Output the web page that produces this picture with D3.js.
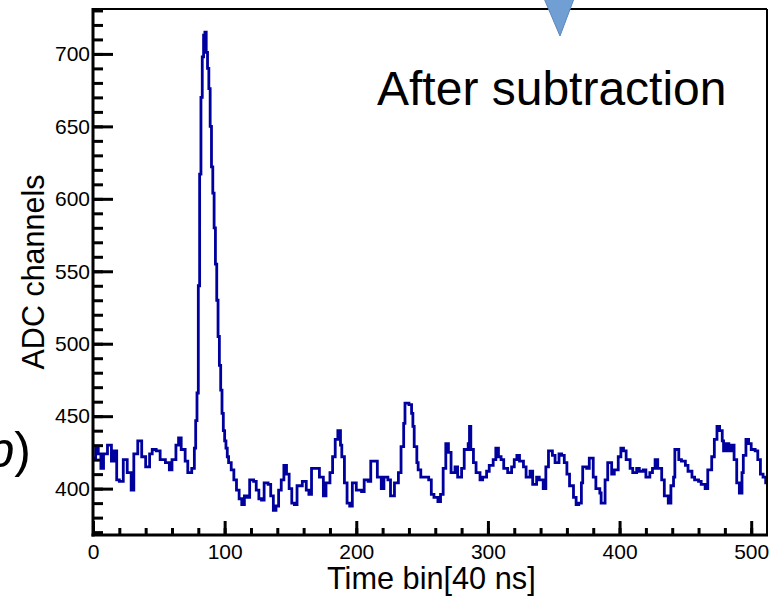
<!DOCTYPE html>
<html>
<head>
<meta charset="utf-8">
<script src="https://cdn.jsdelivr.net/npm/d3@7"></script>
<style>
  body { margin: 0; background: #fff; }
  text { font-family: "Liberation Sans", Arial, sans-serif; }
</style>
</head>
<body>
<svg id="chart" width="773" height="597"></svg>
<script>
"use strict";

// bin where each step starts, and the ADC value
var bins = [0, 2, 4, 6, 8, 11, 14, 16, 18, 20, 23, 26, 29, 31, 34, 37, 40, 43, 45, 48,
  51, 55, 58, 60, 63, 65, 67, 70, 72, 75, 77, 78, 79, 80, 81, 82, 83, 84, 85, 86,
  87, 88, 89, 90, 91, 92, 93, 94, 95, 96, 97, 98, 99, 100, 101, 102, 103, 105, 107, 109,
  111, 113, 115, 117, 119, 122, 124, 126, 128, 130, 133, 135, 137, 139, 141, 143, 145, 147, 149, 151,
  153, 155, 157, 159, 162, 164, 166, 170, 172, 175, 177, 180, 182, 184, 186, 188, 189, 191, 193, 195,
  197, 200, 204, 206, 209, 211, 214, 216, 219, 221, 224, 226, 229, 232, 234, 236, 237, 240, 242, 243,
  244, 246, 247, 249, 252, 255, 257, 259, 262, 264, 266, 268, 270, 272, 275, 277, 280, 282, 285, 286,
  287, 289, 291, 294, 296, 299, 301, 304, 306, 308, 310, 312, 315, 318, 320, 322, 324, 327, 329, 332,
  334, 337, 339, 342, 344, 346, 349, 351, 354, 356, 358, 360, 362, 365, 367, 369, 371, 372, 375, 377,
  380, 382, 385, 386, 389, 391, 394, 396, 399, 401, 403, 405, 408, 410, 413, 415, 418, 420, 423, 425,
  427, 429, 432, 434, 437, 439, 441, 442, 445, 447, 450, 452, 455, 457, 460, 462, 465, 467, 470, 472,
  474, 476, 478, 479, 481, 483, 485, 487, 489, 491, 493, 494, 496, 498, 500, 503, 505, 507, 509, 511]
var adc = [421, 428, 424, 414, 424, 430, 419, 426, 406, 405, 420, 411, 399, 424, 433, 422, 415, 424, 427, 426,
  420, 418, 413, 420, 430, 435, 427, 419, 411, 414, 428, 447, 466, 540, 617, 670, 698, 713, 715, 701,
  690, 676, 650, 622, 604, 580, 555, 530, 505, 485, 468, 452, 440, 433, 428, 422, 418, 413, 406, 399,
  393, 389, 395, 394, 406, 405, 399, 393, 392, 404, 403, 395, 385, 388, 399, 406, 416, 410, 400, 390,
  389, 402, 402, 405, 399, 396, 414, 414, 408, 395, 404, 411, 422, 434, 440, 430, 422, 404, 390, 388,
  404, 399, 398, 406, 405, 419, 419, 408, 400, 408, 406, 395, 404, 411, 429, 445, 459, 458, 452, 443,
  429, 418, 413, 408, 408, 406, 396, 394, 391, 396, 414, 431, 425, 411, 415, 408, 414, 427, 431, 443,
  427, 418, 411, 406, 408, 412, 416, 420, 428, 422, 420, 414, 411, 415, 420, 423, 419, 415, 408, 412,
  403, 408, 406, 400, 415, 426, 423, 418, 424, 423, 418, 410, 402, 394, 389, 390, 404, 415, 414, 421,
  408, 400, 397, 390, 406, 418, 410, 413, 422, 428, 426, 420, 414, 411, 414, 412, 413, 408, 411, 414,
  420, 414, 406, 395, 390, 402, 408, 427, 420, 419, 416, 412, 408, 406, 405, 403, 400, 413, 422, 434,
  443, 440, 433, 426, 431, 426, 430, 420, 404, 397, 411, 423, 434, 431, 427, 426, 420, 410, 408, 404]

var xDomain = [0, 512]
var yDomain = [368, 731]
var xMajor = [0, 100, 200, 300, 400, 500]
var yMajor = [400, 450, 500, 550, 600, 650, 700]

var svg = d3.select("#chart")
var frame = { left: 93, right: 767, top: 9, bottom: 535 }

var x = d3.scaleLinear().domain(xDomain).range([frame.left, frame.right])
var y = d3.scaleLinear().domain(yDomain).range([frame.bottom, frame.top])

var points = bins.map(function(b, i) { return { bin: b, v: adc[i] } })
points.push({ bin: xDomain[1], v: adc[adc.length - 1] }) // close the last bin

// minor ticks
svg.append("g")
  .attr("transform", "translate(" + frame.left + ",0)")
  .call(d3.axisLeft(y).tickValues(d3.range(370, 731, 10)).tickSize(-10).tickFormat(""))
svg.append("g")
  .attr("transform", "translate(0," + frame.bottom + ")")
  .call(d3.axisBottom(x).tickValues(d3.range(0, 513, 20)).tickSize(-7).tickFormat(""))

// major ticks with labels
svg.append("g")
  .attr("transform", "translate(" + frame.left + ",0)")
  .call(d3.axisLeft(y).tickValues(yMajor).tickSize(-20).tickPadding(3))
svg.append("g")
  .attr("transform", "translate(0," + frame.bottom + ")")
  .call(d3.axisBottom(x).tickValues(xMajor).tickSize(-14).tickPadding(9))

svg.selectAll(".domain").remove()
svg.selectAll(".tick line").attr("stroke", "#000").attr("stroke-width", 3)
svg.selectAll(".tick text")
  .attr("fill", "#000")
  .style("font-size", "21px")
  .style("font-family", "Liberation Sans, Arial, sans-serif")

// histogram
svg.append("path")
  .datum(points)
  .attr("fill", "none")
  .attr("stroke", "#00009e")
  .attr("stroke-width", 2.8)
  .attr("d", d3.line()
    .x(function(d) { return x(d.bin) })
    .y(function(d) { return y(d.v) })
    .curve(d3.curveStepAfter))

// frame
function frameLine(x1, y1, x2, y2, w) {
  svg.append("line").attr("x1", x1).attr("y1", y1).attr("x2", x2).attr("y2", y2)
    .attr("stroke", "#000").attr("stroke-width", w)
}
frameLine(frame.left, frame.top, frame.right, frame.top, 2)
frameLine(frame.right, frame.top, frame.right, frame.bottom, 2)
frameLine(frame.left, frame.top - 1, frame.left, frame.bottom + 1.5, 3)
frameLine(frame.left - 1.5, frame.bottom, frame.right + 1, frame.bottom, 3)

// axis titles
svg.append("text")
  .attr("x", 327).attr("y", 589)
  .style("font-size", "30.7px")
  .text("Time bin[40 ns]")
svg.append("text")
  .attr("transform", "translate(44,272) rotate(-90)")
  .attr("text-anchor", "middle")
  .style("font-size", "30.5px")
  .text("ADC channels")

// annotations
svg.append("text")
  .attr("x", 377).attr("y", 105)
  .style("font-size", "48px")
  .text("After subtraction")

// panel label, cut at the left edge as in the original slide
var lbl = svg.append("text")
  .attr("x", 31).attr("y", 467)
  .attr("text-anchor", "end")
  .style("font-size", "50px")
lbl.append("tspan").text("(")
lbl.append("tspan").style("font-style", "italic").text("b")
lbl.append("tspan").text(")")

svg.append("path")
  .attr("d", "M543,-4L575,-4L560,36Z")
  .attr("fill", "#729fd3")
  .attr("stroke", "#5a86bb")
  .attr("stroke-width", 1)
</script>
</body>
</html>
